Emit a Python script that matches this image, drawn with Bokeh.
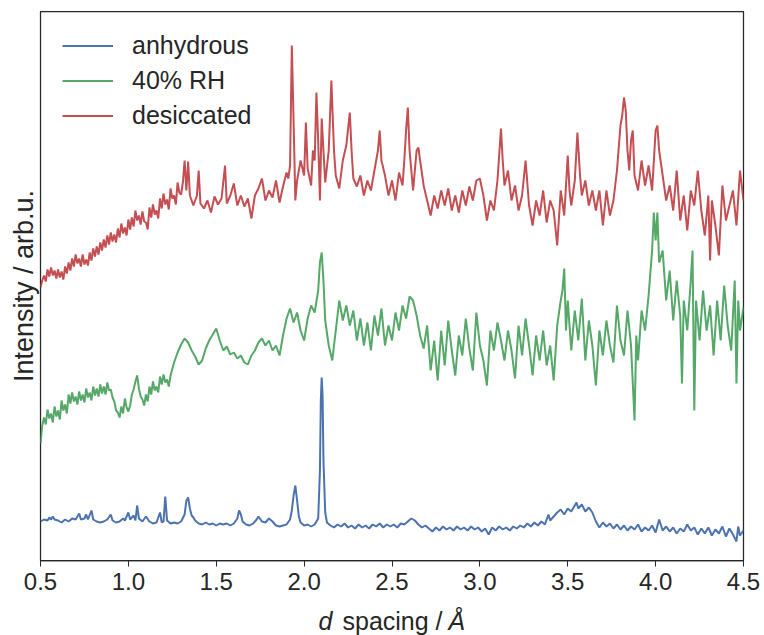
from bokeh.plotting import figure
from bokeh.models import Range1d, FixedTicker, Label, LinearAxis
from bokeh.layouts import column
from bokeh.embed import file_html
from bokeh.resources import INLINE

# ---------------- data ----------------
tick_values = [0.5, 1.0, 1.5, 2.0, 2.5, 3.0, 3.5, 4.0, 4.5]
tick_labels = ["0.5", "1.0", "1.5", "2.0", "2.5", "3.0", "3.5", "4.0", "4.5"]
series_names = ["anhydrous", "40% RH", "desiccated"]
y_title = "Intensity / arb.u."
x_title_parts = ["d", "spacing /", "Å"]

anhydrous_x = [
    0.50, 0.52, 0.54, 0.55, 0.56, 0.57, 0.58, 0.60, 0.62, 0.64,
    0.66, 0.68, 0.70, 0.72, 0.73, 0.75, 0.76, 0.77, 0.79, 0.80,
    0.82, 0.84, 0.86, 0.88, 0.90, 0.91, 0.93, 0.95, 0.97, 0.98,
    1.00, 1.01, 1.03, 1.04, 1.05, 1.06, 1.08, 1.10, 1.12, 1.14,
    1.16, 1.18, 1.19, 1.20, 1.21, 1.22, 1.24, 1.26, 1.28, 1.30,
    1.32, 1.33, 1.34, 1.35, 1.36, 1.37, 1.38, 1.40, 1.42, 1.44,
    1.46, 1.48, 1.50, 1.52, 1.54, 1.56, 1.58, 1.60, 1.62, 1.63,
    1.64, 1.65, 1.67, 1.69, 1.71, 1.73, 1.74, 1.76, 1.78, 1.80,
    1.82, 1.84, 1.86, 1.88, 1.90, 1.92, 1.93, 1.94, 1.95, 1.96,
    1.97, 1.98, 2.00, 2.02, 2.04, 2.06, 2.08, 2.09, 2.095, 2.10,
    2.105, 2.11, 2.12, 2.13, 2.15, 2.17, 2.19, 2.21, 2.23, 2.25,
    2.27, 2.29, 2.31, 2.33, 2.35, 2.37, 2.39, 2.41, 2.43, 2.45,
    2.47, 2.49, 2.51, 2.53, 2.55, 2.57, 2.59, 2.61, 2.63, 2.65,
    2.67, 2.69, 2.71, 2.73, 2.75, 2.77, 2.79, 2.81, 2.83, 2.85,
    2.87, 2.89, 2.91, 2.93, 2.95, 2.97, 2.99, 3.01, 3.03, 3.05,
    3.07, 3.09, 3.11, 3.13, 3.15, 3.17, 3.19, 3.21, 3.23, 3.25,
    3.27, 3.29, 3.31, 3.33, 3.35, 3.37, 3.39, 3.40, 3.42, 3.44,
    3.46, 3.48, 3.50, 3.52, 3.54, 3.55, 3.56, 3.58, 3.60, 3.62,
    3.64, 3.66, 3.68, 3.70, 3.72, 3.74, 3.76, 3.78, 3.80, 3.82,
    3.84, 3.86, 3.88, 3.90, 3.92, 3.94, 3.96, 3.98, 4.00, 4.02,
    4.04, 4.06, 4.08, 4.10, 4.12, 4.14, 4.16, 4.18, 4.20, 4.22,
    4.24, 4.26, 4.28, 4.30, 4.32, 4.34, 4.36, 4.38, 4.40, 4.42,
    4.44, 4.46, 4.47, 4.48, 4.50,
]
anhydrous_y = [
    39, 41, 40, 43, 41, 44, 41, 40, 38, 41,
    39, 42, 41, 47, 41, 42, 46, 41, 50, 41,
    39, 38, 39, 41, 46, 40, 38, 39, 42, 40,
    48, 41, 45, 40, 55, 42, 39, 44, 39, 37,
    38, 48, 38, 39, 64, 40, 37, 38, 37, 39,
    46, 60, 63, 52, 45, 43, 40, 37, 36, 38,
    36, 37, 35, 37, 36, 37, 35, 37, 42, 50,
    46, 39, 36, 35, 37, 41, 44, 39, 38, 42,
    39, 35, 34, 35, 36, 41, 50, 65, 75, 60,
    44, 38, 35, 36, 34, 36, 42, 90, 160, 183,
    165, 100, 48, 38, 35, 33, 36, 34, 37, 33,
    35, 32, 36, 33, 35, 32, 36, 34, 37, 33,
    36, 34, 36, 33, 37, 36, 39, 42, 40, 36,
    33, 35, 32, 29, 33, 30, 34, 31, 33, 30,
    34, 31, 33, 30, 34, 31, 33, 29, 32, 26,
    33, 30, 34, 31, 33, 30, 34, 32, 35, 33,
    37, 34, 38, 35, 39, 36, 46, 40, 44, 48,
    51, 46, 52, 49, 55, 58, 52, 56, 49, 53,
    48, 39, 33, 38, 34, 37, 32, 36, 31, 35,
    30, 34, 31, 36, 29, 33, 30, 35, 28, 41,
    30, 34, 29, 33, 27, 32, 29, 36, 30, 33,
    26, 32, 27, 33, 25, 31, 27, 34, 24, 32,
    26, 19, 34, 25, 30,
]

rh40_x = [
    0.50, 0.51, 0.52, 0.53, 0.54, 0.55, 0.56, 0.57, 0.58, 0.59,
    0.60, 0.61, 0.62, 0.63, 0.64, 0.65, 0.66, 0.67, 0.68, 0.69,
    0.70, 0.71, 0.72, 0.73, 0.74, 0.75, 0.76, 0.77, 0.78, 0.79,
    0.80, 0.81, 0.82, 0.83, 0.84, 0.85, 0.86, 0.87, 0.88, 0.89,
    0.90, 0.91, 0.92, 0.93, 0.94, 0.95, 0.96, 0.97, 0.98, 0.99,
    1.00, 1.01, 1.02, 1.03, 1.04, 1.05, 1.06, 1.07, 1.08, 1.09,
    1.10, 1.11, 1.12, 1.13, 1.14, 1.15, 1.16, 1.17, 1.18, 1.19,
    1.20, 1.21, 1.22, 1.23, 1.24,
    1.26, 1.28, 1.30, 1.32, 1.34, 1.36, 1.38, 1.40, 1.42, 1.44,
    1.46, 1.48, 1.50, 1.52, 1.54, 1.56, 1.58, 1.60, 1.62, 1.64,
    1.66, 1.68, 1.70, 1.72, 1.74, 1.76, 1.78, 1.80, 1.82, 1.84,
    1.86, 1.88, 1.90, 1.92, 1.94, 1.96, 1.98, 2.00, 2.02, 2.04,
    2.06, 2.08, 2.09, 2.10, 2.11, 2.12, 2.14, 2.16, 2.18, 2.20,
    2.22, 2.24, 2.26, 2.28, 2.30, 2.32, 2.34, 2.36, 2.38, 2.40,
    2.42, 2.44, 2.46, 2.48, 2.50, 2.52, 2.54, 2.56, 2.58, 2.60,
    2.62, 2.64, 2.66, 2.68, 2.70, 2.72, 2.74, 2.76, 2.78, 2.80,
    2.82, 2.84, 2.86, 2.88, 2.90, 2.92, 2.94, 2.96, 2.98, 3.00,
    3.02, 3.04, 3.06, 3.08, 3.10, 3.12, 3.14, 3.16, 3.18, 3.20,
    3.22, 3.24, 3.26, 3.28, 3.30, 3.32, 3.34, 3.36, 3.38, 3.40,
    3.42, 3.44, 3.46, 3.47, 3.48, 3.49, 3.50, 3.52, 3.54, 3.56,
    3.58, 3.60, 3.62, 3.64, 3.66, 3.68, 3.70, 3.72, 3.74, 3.76,
    3.78, 3.80, 3.82, 3.84, 3.86, 3.88, 3.89, 3.90, 3.92, 3.94,
    3.96, 3.98, 3.99, 4.00, 4.01, 4.02, 4.04, 4.06, 4.08, 4.10,
    4.12, 4.14, 4.15, 4.16, 4.18, 4.20, 4.21, 4.22, 4.23, 4.25,
    4.27, 4.29, 4.31, 4.33, 4.35, 4.37, 4.39, 4.41, 4.43, 4.45,
    4.46, 4.47, 4.48, 4.50,
]
rh40_y = [
    117, 135, 143, 136, 151, 142, 147, 138, 154, 144,
    150, 141, 160, 150, 156, 147, 166, 157, 168, 159,
    164, 156, 169, 160, 166, 158, 172, 163, 168, 160,
    174, 165, 172, 164, 176, 167, 174, 166, 178, 170,
    171, 163, 159, 150, 148, 143, 154, 147, 162, 153,
    149, 155, 166, 171, 179, 185, 172, 164, 161, 155,
    166, 159, 174, 166, 179, 170, 174, 168, 184, 176,
    186, 178, 181, 174, 185,
    198, 208, 216, 222, 218, 210, 204, 196, 200, 212,
    220, 226, 232, 220, 210, 214, 206, 208, 202, 205,
    198, 196, 205, 210, 218, 222, 215, 220, 210, 215,
    205, 225, 242, 252, 238, 248, 230, 220, 242, 255,
    248, 270, 298, 308, 280, 240, 215, 200, 230, 260,
    240, 255, 235, 250, 220, 242, 215, 238, 210, 245,
    225, 252, 215, 235, 220, 248, 230, 255, 242, 264,
    260, 245, 225, 212, 235, 190, 220, 180, 230, 195,
    240, 210, 185, 225, 205, 242, 212, 190, 248, 215,
    200, 175, 230, 210, 238, 220, 200, 230, 210, 182,
    235, 205, 242, 215, 185, 225, 200, 230, 195, 215,
    180, 235, 260, 270, 292, 230, 260, 210, 250, 220,
    262, 200, 240, 215, 175, 230, 205, 240, 215, 198,
    255, 220, 205, 250, 215, 140, 225, 200, 250, 230,
    265, 310, 348, 320, 348, 298, 310, 260, 290, 240,
    280, 245, 177, 260, 230, 280, 310, 150, 260, 220,
    270, 230, 255, 205, 260, 220, 275, 235, 210, 280,
    177, 260, 230, 253,
]

desiccated_x = [
    0.50, 0.51, 0.52, 0.53, 0.54, 0.55, 0.56, 0.57, 0.58, 0.59,
    0.60, 0.61, 0.62, 0.63, 0.64, 0.65, 0.66, 0.67, 0.68, 0.69,
    0.70, 0.71, 0.72, 0.73, 0.74, 0.75, 0.76, 0.77, 0.78, 0.79,
    0.80, 0.81, 0.82, 0.83, 0.84, 0.85, 0.86, 0.87, 0.88, 0.89,
    0.90, 0.91, 0.92, 0.93, 0.94, 0.95, 0.96, 0.97, 0.98, 0.99,
    1.00, 1.01, 1.02, 1.03, 1.04, 1.05, 1.06, 1.07, 1.08, 1.09,
    1.10, 1.11, 1.12, 1.13, 1.14, 1.15, 1.16, 1.17, 1.18, 1.19,
    1.20, 1.21, 1.22, 1.23, 1.24, 1.25, 1.26, 1.27, 1.28, 1.29,
    1.30,
    1.31, 1.32, 1.33, 1.34, 1.35, 1.37, 1.39, 1.40, 1.41,
    1.43, 1.45, 1.47, 1.49, 1.51, 1.53, 1.55, 1.56, 1.58, 1.60,
    1.62, 1.64, 1.66, 1.68, 1.70, 1.72, 1.74, 1.76, 1.78, 1.80,
    1.82, 1.84, 1.86, 1.88, 1.90, 1.91, 1.92, 1.93, 1.94, 1.95,
    1.96, 1.98, 2.00, 2.01, 2.02, 2.04, 2.05, 2.06, 2.07, 2.08,
    2.09, 2.10, 2.11, 2.12, 2.14, 2.155, 2.17, 2.18, 2.20, 2.22,
    2.24, 2.26, 2.27, 2.28, 2.30, 2.32, 2.34, 2.36, 2.38, 2.40,
    2.42, 2.43, 2.44, 2.46, 2.48, 2.50, 2.52, 2.54, 2.56, 2.57,
    2.58, 2.59, 2.60, 2.62, 2.64, 2.65, 2.66, 2.68, 2.70, 2.72,
    2.74, 2.76, 2.78, 2.80, 2.82, 2.84, 2.86, 2.88, 2.90, 2.92,
    2.94, 2.96, 2.98, 3.00, 3.02, 3.04, 3.06, 3.08, 3.10, 3.12,
    3.13, 3.14, 3.16, 3.18, 3.20, 3.22, 3.24, 3.26, 3.28, 3.30,
    3.32, 3.34, 3.36, 3.38, 3.40, 3.42, 3.44, 3.46, 3.48, 3.50,
    3.51, 3.52, 3.54, 3.555, 3.57, 3.58, 3.60, 3.62, 3.64, 3.66,
    3.68, 3.70, 3.72, 3.74, 3.76, 3.78, 3.80, 3.81, 3.82, 3.83,
    3.84, 3.85, 3.86, 3.87, 3.88, 3.90, 3.92, 3.94, 3.96, 3.98,
    4.00, 4.01, 4.02, 4.04, 4.06, 4.08, 4.10, 4.12, 4.14, 4.16,
    4.18, 4.20, 4.22, 4.24, 4.26, 4.28, 4.30, 4.31, 4.32, 4.34,
    4.36, 4.38, 4.40, 4.42, 4.44, 4.46, 4.48, 4.50,
]
desiccated_y = [
    273, 280, 285, 279, 291, 284, 293, 285, 290, 282,
    291, 283, 289, 281, 294, 287, 298, 290, 302, 294,
    306, 297, 302, 294, 306, 296, 301, 295, 308, 300,
    312, 304, 314, 306, 318, 310, 321, 313, 325, 316,
    328, 319, 326, 318, 332, 323, 337, 327, 333, 325,
    341, 331, 343, 334, 350, 340, 345, 336, 349, 339,
    338, 331, 353, 343, 356, 346, 350, 342, 362, 352,
    367, 356, 361, 351, 372, 362, 365, 356, 378, 368,
    366,
    378, 400, 370, 399, 365, 355, 365, 390, 357,
    352, 360, 348, 364, 356, 362, 395, 357, 365, 377,
    355, 365, 354, 362, 342, 365, 372, 382, 360, 370,
    363, 380, 358, 374, 388, 382, 395, 515, 440, 360,
    380, 400, 385, 438, 392, 375, 410, 400, 468, 420,
    360, 442, 410, 378, 410, 480, 410, 385, 372, 400,
    415, 448, 410, 382, 374, 385, 365, 380, 370, 390,
    410, 430, 400, 385, 365, 380, 360, 388, 375, 400,
    430, 453, 410, 370, 410, 413, 400, 375, 360, 345,
    365, 352, 370, 355, 372, 350, 365, 348, 370, 355,
    374, 360, 380, 382, 365, 340, 360, 350, 380, 432,
    400, 375, 390, 360, 375, 350, 365, 400, 355, 335,
    360, 345, 370, 338, 360, 350, 315, 370, 345, 405,
    370, 355, 380, 428, 385, 365, 380, 355, 370, 350,
    370, 335, 370, 345, 360, 390, 435, 445, 463, 450,
    410, 390, 420, 430, 385, 370, 400, 375, 395, 370,
    430, 435, 410, 385, 360, 375, 350, 390, 340, 365,
    330, 370, 355, 390, 350, 325, 365, 300, 360, 335,
    305, 375, 340, 355, 370, 335, 390, 360,
]

# ---------------- styling ----------------
FONT = "Liberation Sans"
TXT = "#262626"
colors = ["#4C72B0", "#55A868", "#C44E52"]

p = figure(
    width=764, height=600,
    x_range=Range1d(0.5, 4.5), y_range=Range1d(0, 549),
    output_backend="svg", toolbar_location=None,
    y_axis_location=None, title=None,
    min_border_left=40, min_border_right=21,
    min_border_top=11, min_border_bottom=40,
)
p.background_fill_color = "white"
p.border_fill_color = "white"
p.grid.visible = False
p.outline_line_color = TXT
p.outline_line_width = 1.25
p.outline_line_alpha = 1.0

ax = p.xaxis[0]
ax.ticker = FixedTicker(ticks=tick_values)
ax.major_label_overrides = {v: s for v, s in zip(tick_values, tick_labels)}
ax.axis_line_color = TXT
ax.axis_line_width = 1.25
ax.major_tick_line_color = TXT
ax.major_tick_line_width = 1
ax.major_tick_out = 6
ax.major_tick_in = 0
ax.minor_tick_line_color = None
ax.major_label_text_font = FONT
ax.major_label_text_font_size = "24px"
ax.major_label_text_color = TXT
ax.major_label_standoff = 6

yax = LinearAxis(ticker=FixedTicker(ticks=[]), axis_label=y_title)
yax.axis_line_color = None
yax.major_tick_out = 0
yax.major_tick_in = 0
yax.minor_tick_out = 0
yax.minor_tick_in = 0
yax.major_label_standoff = 0
yax.axis_label_standoff = 2
yax.axis_label_text_font = FONT
yax.axis_label_text_font_size = "27px"
yax.axis_label_text_font_style = "normal"
yax.axis_label_text_color = TXT
p.add_layout(yax, "left")

for name, xs, ys, c in zip(series_names,
                           [anhydrous_x, rh40_x, desiccated_x],
                           [anhydrous_y, rh40_y, desiccated_y],
                           colors):
    p.line(xs, ys, line_color=c, line_width=2, legend_label=name)

leg = p.legend[0]
leg.location = (22, 427)
leg.padding = 0
leg.margin = 0
leg.border_line_color = None
leg.background_fill_alpha = 0
leg.glyph_width = 51
leg.glyph_height = 35
leg.label_height = 35
leg.label_standoff = 19
leg.spacing = 0
leg.label_text_font = FONT
leg.label_text_font_size = "25px"
leg.label_text_color = TXT

# strip below holding the x-axis title (mixed italic / upright);
# its frame is aligned with the main frame (pixel 40 .. 743)
q = figure(
    width=764, height=35, title=None,
    x_range=Range1d(40, 743), y_range=Range1d(0, 35),
    output_backend="svg", toolbar_location=None,
    x_axis_location=None, y_axis_location=None,
    min_border=0, min_border_left=0, min_border_right=0,
    min_border_top=0, min_border_bottom=0,
)
q.outline_line_color = None
q.grid.visible = False
q.background_fill_color = "white"
q.border_fill_color = "white"
lbl_kw = dict(text_font=FONT, text_font_size="25px", text_color=TXT,
              text_baseline="bottom", text_align="left")
q.add_layout(Label(x=318, y=1, text=x_title_parts[0], text_font_style="italic", **lbl_kw))
q.add_layout(Label(x=342, y=1, text=x_title_parts[1], **lbl_kw))
q.add_layout(Label(x=448, y=1, text=x_title_parts[2], text_font_style="italic", **lbl_kw))

layout = column(p, q, spacing=0)
open("out.html", "w").write(file_html(layout, INLINE))
